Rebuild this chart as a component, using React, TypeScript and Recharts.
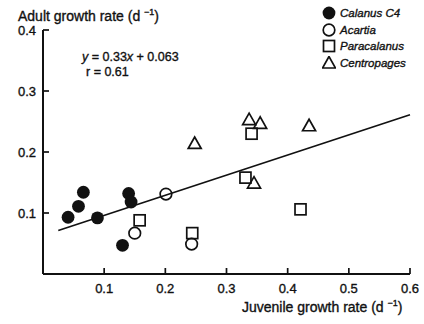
import React from "react";
import { ScatterChart, Scatter, XAxis, YAxis, ReferenceLine, Legend } from "recharts";

// Juvenile (x) vs adult (y) growth rates, d^-1, per copepod taxon
const calanusX = [0.041, 0.058, 0.066, 0.089, 0.13, 0.14, 0.144];
const calanusY = [0.093, 0.111, 0.134, 0.092, 0.047, 0.132, 0.118];
const acartiaX = [0.15, 0.201, 0.243];
const acartiaY = [0.067, 0.131, 0.049];
const paracalanusX = [0.158, 0.244, 0.331, 0.341, 0.421];
const paracalanusY = [0.088, 0.067, 0.158, 0.23, 0.106];
const centropagesX = [0.248, 0.337, 0.345, 0.355, 0.435];
const centropagesY = [0.214, 0.253, 0.149, 0.247, 0.243];

const speciesNames = ["Calanus C4", "Acartia", "Paracalanus", "Centropages"];

// Least-squares fit shown on the plot
const FIT_SLOPE = 0.33;
const FIT_INTERCEPT = 0.063;
const FIT_R = 0.61;
const fitFrom = 0.025;
const fitTo = 0.6;

const xTicks = [0.1, 0.2, 0.3, 0.4, 0.5, 0.6];
const yTicks = [0.1, 0.2, 0.3, 0.4];

const INK = "#111";
const FONT = '"Liberation Sans", Arial, Helvetica, sans-serif';

const toPoints = (xs: number[], ys: number[]) => xs.map((x, i) => ({ x, y: ys[i] }));

type Kind = "filled" | "circle" | "square" | "triangle";
const kinds: Kind[] = ["filled", "circle", "square", "triangle"];

const Marker = ({ kind, cx, cy }: { kind: Kind; cx: number; cy: number }) => {
  if (kind === "filled") return <circle cx={cx} cy={cy} r={6.4} fill={INK} />;
  if (kind === "circle")
    return <circle cx={cx} cy={cy} r={5.8} fill="none" stroke={INK} strokeWidth={1.7} />;
  if (kind === "square")
    return (
      <rect x={cx - 5.5} y={cy - 5.5} width={11} height={11} fill="none" stroke={INK} strokeWidth={1.7} />
    );
  return (
    <polygon
      points={`${cx},${cy - 6.5} ${cx - 6.5},${cy + 5} ${cx + 6.5},${cy + 5}`}
      fill="none"
      stroke={INK}
      strokeWidth={1.7}
    />
  );
};

const shapeFor = (kind: Kind) => (props: any) => <Marker kind={kind} cx={props.cx} cy={props.cy} />;

const tickText = { fontFamily: FONT, fontSize: 13, fill: INK, stroke: INK, strokeWidth: 0.35 };

const XTick = (props: any) => {
  const { x, y, payload } = props;
  return (
    <g>
      <line x1={x} y1={y} x2={x} y2={y - 6} stroke={INK} strokeWidth={1.7} />
      <text x={x} y={y + 18.5} textAnchor="middle" {...tickText}>
        {payload.value.toFixed(1)}
      </text>
    </g>
  );
};

const YTick = (props: any) => {
  const { x, y, payload } = props;
  return (
    <g>
      <line x1={x} y1={y} x2={x + 6} y2={y} stroke={INK} strokeWidth={1.7} />
      <text x={x - 7} y={y + 4.5} textAnchor="end" {...tickText}>
        {payload.value.toFixed(1)}
      </text>
    </g>
  );
};

const renderLegend = () => (
  <div
    style={{
      fontFamily: FONT,
      fontSize: 11.5,
      fontStyle: "italic",
      color: INK,
      WebkitTextStroke: "0.35px #111",
    }}
  >
    {speciesNames.map((name, i) => (
      <div key={name} style={{ display: "flex", alignItems: "center", height: 16.5 }}>
        <svg width={14} height={14} style={{ marginRight: 4 }}>
          <Marker kind={kinds[i]} cx={7} cy={7} />
        </svg>
        {name}
      </div>
    ))}
  </div>
);

const series = [
  toPoints(calanusX, calanusY),
  toPoints(acartiaX, acartiaY),
  toPoints(paracalanusX, paracalanusY),
  toPoints(centropagesX, centropagesY),
];

const textStyle: React.CSSProperties = {
  position: "absolute",
  fontFamily: FONT,
  fontSize: 14,
  color: INK,
  whiteSpace: "nowrap",
  lineHeight: "16px",
  WebkitTextStroke: "0.35px #111",
};

export default function App() {
  return (
    <div style={{ position: "absolute", left: 0, top: 0, width: 424, height: 324, background: "#fff" }}>
      <ScatterChart width={424} height={324} margin={{ top: 30, right: 14, bottom: 20, left: 0 }}>
        <XAxis
          type="number"
          dataKey="x"
          domain={[0, 0.6]}
          ticks={xTicks}
          height={30}
          tickSize={0}
          tickMargin={0}
          tick={<XTick />}
          axisLine={{ stroke: INK, strokeWidth: 2 }}
          tickLine={false}
          allowDataOverflow
        />
        <YAxis
          type="number"
          dataKey="y"
          domain={[0, 0.4]}
          ticks={yTicks}
          width={43}
          tickSize={0}
          tickMargin={0}
          tick={<YTick />}
          axisLine={{ stroke: INK, strokeWidth: 2 }}
          tickLine={false}
          allowDataOverflow
        />
        <ReferenceLine
          segment={[
            { x: fitFrom, y: FIT_SLOPE * fitFrom + FIT_INTERCEPT },
            { x: fitTo, y: FIT_SLOPE * fitTo + FIT_INTERCEPT },
          ]}
          stroke={INK}
          strokeWidth={1.7}
          ifOverflow="visible"
        />
        {series.map((pts, i) => (
          <Scatter
            key={speciesNames[i]}
            name={speciesNames[i]}
            data={pts}
            shape={shapeFor(kinds[i])}
            fill={INK}
            isAnimationActive={false}
          />
        ))}
        <Legend
          layout="horizontal"
          verticalAlign="middle"
          align="center"
          content={renderLegend}
          wrapperStyle={{ top: 5, left: 322, width: 102 }}
        />
      </ScatterChart>
      <div style={{ ...textStyle, left: 18, top: 4 }}>
        Adult growth rate (d <sup style={{ fontSize: 9 }}>−1</sup>)
      </div>
      <div style={{ ...textStyle, left: 242, top: 295 }}>
        Juvenile growth rate (d <sup style={{ fontSize: 9 }}>−1</sup>)
      </div>
      <div style={{ ...textStyle, fontSize: 12.5, left: 82, top: 49 }}>
        <i>y</i> = {FIT_SLOPE}
        <i>x</i> + {FIT_INTERCEPT}
      </div>
      <div style={{ ...textStyle, fontSize: 12.5, left: 86, top: 64 }}>
        r = {FIT_R}
      </div>
    </div>
  );
}
